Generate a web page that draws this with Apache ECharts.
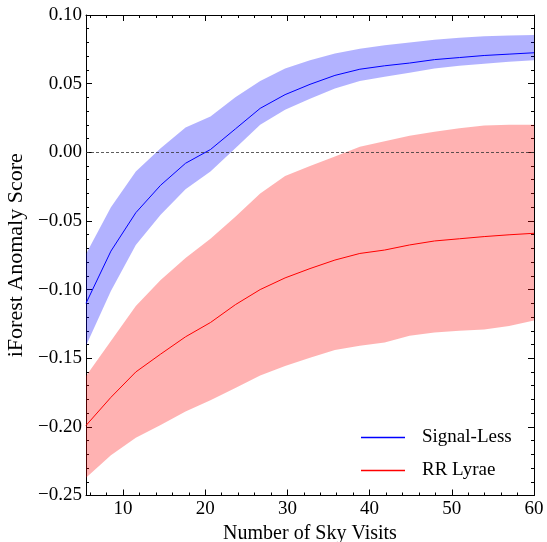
<!DOCTYPE html>
<html>
<head>
<meta charset="utf-8">
<script src="https://cdn.jsdelivr.net/npm/echarts@6/dist/echarts.min.js"></script>
<style>
html,body{margin:0;padding:0;background:#fff;}
#chart{width:547px;height:542px;}
</style>
</head>
<body>
<div id="chart"></div>
<script>
// ---- data ----
const visits = [5.5, 8.53, 11.56, 14.58, 17.61, 20.64, 23.67, 26.69, 29.72, 32.75, 35.78, 38.81, 41.83, 44.86, 47.89, 50.92, 53.94, 56.97, 60];

const signalLessMean  = [-0.110, -0.072, -0.044, -0.024, -0.008, 0.002, 0.017, 0.032, 0.042, 0.0495, 0.056, 0.0605, 0.063, 0.065, 0.0675, 0.069, 0.0705, 0.0715, 0.0725];
const signalLessUpper = [-0.074, -0.040, -0.014, 0.003, 0.018, 0.026, 0.040, 0.052, 0.061, 0.067, 0.072, 0.0755, 0.078, 0.080, 0.082, 0.0835, 0.0845, 0.085, 0.0855];
const signalLessLower = [-0.141, -0.101, -0.0675, -0.0455, -0.027, -0.014, 0.003, 0.020, 0.031, 0.039, 0.0465, 0.052, 0.055, 0.058, 0.061, 0.063, 0.0645, 0.066, 0.067];

const rrLyraeMean  = [-0.199, -0.1785, -0.160, -0.147, -0.1344, -0.124, -0.111, -0.100, -0.0915, -0.0847, -0.0785, -0.0737, -0.0712, -0.0675, -0.0646, -0.063, -0.0614, -0.0601, -0.059];
const rrLyraeUpper = [-0.163, -0.1374, -0.112, -0.093, -0.077, -0.063, -0.047, -0.030, -0.0173, -0.0099, -0.003, 0.004, 0.008, 0.012, 0.015, 0.0175, 0.0195, 0.020, 0.020];
const rrLyraeLower = [-0.237, -0.2207, -0.208, -0.1987, -0.1888, -0.1807, -0.1717, -0.1626, -0.1557, -0.1496, -0.144, -0.141, -0.1386, -0.1337, -0.1313, -0.130, -0.129, -0.1265, -0.1226];

const xMajorTicks = [10, 20, 30, 40, 50, 60];
const xMinorTicks = [6, 8, 12, 14, 16, 18, 22, 24, 26, 28, 32, 34, 36, 38, 42, 44, 46, 48, 52, 54, 56, 58];
const referenceLevel = 0;

const seriesNames = ['Signal-Less', 'RR Lyrae'];
const xName = 'Number of Sky Visits';
const yName = 'iForest Anomaly Score';

// ---- build options ----
const FONT = 'Liberation Serif';
const BLACK = '#000';
const pairs = (ys) => visits.map((x, i) => [x, ys[i]]);
const bandRows = (lo, hi) => visits.map((x, i) => [x, lo[i], hi[i]]);

function bandSeries(lo, hi, color, extra) {
  return Object.assign({
    type: 'custom',
    data: bandRows(lo, hi),
    encode: { x: 0, y: [1, 2] },
    silent: true,
    z: 1,
    clip: true,
    renderItem: function (params, api) {
      if (params.dataIndex !== 0) return null;
      const top = visits.map((x, i) => api.coord([x, hi[i]]));
      const bottom = visits.map((x, i) => api.coord([x, lo[i]])).reverse();
      return {
        type: 'polygon',
        shape: { points: top.concat(bottom) },
        style: { fill: color, stroke: null }
      };
    }
  }, extra || {});
}

// Ticks pointing into the plot: outward ticks on axes shifted inside by their length.
function xAxisDef(pos, opts) {
  return Object.assign({
    type: 'value', min: 5.5, max: 60, position: pos, offset: 0,
    axisLine: { show: false, onZero: false },
    axisTick: { show: false },
    axisLabel: { show: false },
    splitLine: { show: false }
  }, opts);
}
function yAxisDef(pos, opts) {
  return Object.assign({
    type: 'value', min: -0.25, max: 0.10, interval: 0.05, position: pos, offset: 0,
    axisLine: { show: false, onZero: false },
    axisTick: { show: false },
    axisLabel: { show: false },
    splitLine: { show: false }
  }, opts);
}
const lineOn = { show: true, onZero: false, lineStyle: { color: BLACK, width: 1 } };
const tickStyle = { color: BLACK, width: 1 };

const xAxes = [];
['bottom', 'top'].forEach(function (pos) {
  const main = { axisLine: lineOn };
  if (pos === 'bottom') {
    main.axisLabel = { show: true, customValues: xMajorTicks, color: BLACK, fontFamily: FONT, fontSize: 19, margin: 4 };
    main.name = xName;
    main.nameLocation = 'middle';
    main.nameGap = 27;
    main.nameTextStyle = { fontFamily: FONT, fontSize: 20, color: BLACK };
  }
  xAxes.push(xAxisDef(pos, main));
  xAxes.push(xAxisDef(pos, { offset: -6, axisTick: { show: true, length: 6, customValues: xMajorTicks, lineStyle: tickStyle } }));
  xAxes.push(xAxisDef(pos, { offset: -3, axisTick: { show: true, length: 3, customValues: xMinorTicks, lineStyle: tickStyle } }));
});

const yAxes = [];
['left', 'right'].forEach(function (pos) {
  const main = { axisLine: lineOn };
  if (pos === 'left') {
    main.axisLabel = {
      show: true, color: BLACK, fontFamily: FONT, fontSize: 19, margin: 4,
      formatter: (v) => { const s = v.toFixed(2); return s === '-0.00' ? '0.00' : s.replace('-', '\u2212'); }
    };
    main.name = yName;
    main.nameLocation = 'middle';
    main.nameGap = 55;
    main.nameTextStyle = { fontFamily: FONT, fontSize: 22, color: BLACK };
  }
  yAxes.push(yAxisDef(pos, main));
  yAxes.push(yAxisDef(pos, { offset: -6, axisTick: { show: true, length: 6, lineStyle: tickStyle } }));
  yAxes.push(yAxisDef(pos, { offset: -3, axisTick: { show: true, length: 3, lineStyle: tickStyle },
    minorTick: { show: true, splitNumber: 5, length: 3, lineStyle: tickStyle } }));
});

const option = {
  backgroundColor: '#fff',
  animation: false,
  grid: { left: 86, right: 13, top: 15, bottom: 46.5, containLabel: false, outerBoundsMode: 'none' },
  legend: {
    data: [
      { name: seriesNames[0], icon: 'rect' },
      { name: seriesNames[1], icon: 'rect' }
    ],
    orient: 'vertical',
    left: 361, top: 428, padding: 0,
    itemWidth: 44, itemHeight: 1.3, itemGap: 14,
    textStyle: { fontFamily: FONT, fontSize: 19, color: BLACK, padding: [0, 0, 0, 12] },
    selectedMode: false
  },
  xAxis: xAxes,
  yAxis: yAxes,
  series: [
    bandSeries(signalLessLower, signalLessUpper, 'rgba(0,0,255,0.3)', {
      markLine: {
        silent: true, symbol: ['none', 'none'], label: { show: false },
        lineStyle: { color: '#333', width: 0.8, type: [3, 2] },
        data: [{ yAxis: referenceLevel }]
      }
    }),
    bandSeries(rrLyraeLower, rrLyraeUpper, 'rgba(255,0,0,0.3)'),
    {
      name: seriesNames[0], type: 'line', data: pairs(signalLessMean),
      symbol: 'none', color: '#0000ff', lineStyle: { color: '#0000ff', width: 1 }, z: 3
    },
    {
      name: seriesNames[1], type: 'line', data: pairs(rrLyraeMean),
      symbol: 'none', color: '#ff0000', lineStyle: { color: '#ff0000', width: 1 }, z: 3
    }
  ]
};

const chart = echarts.init(document.getElementById('chart'), null, { renderer: 'canvas' });
chart.setOption(option);
</script>
</body>
</html>
